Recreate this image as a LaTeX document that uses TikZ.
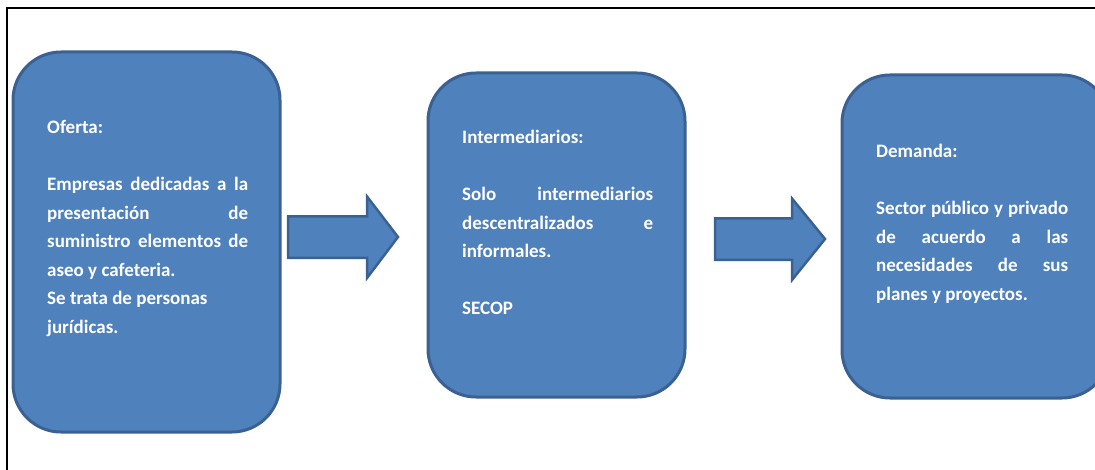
\documentclass[tikz,border=0pt]{standalone}
\usepackage{fontspec}
\setmainfont{Carlito}
\definecolor{boxfill}{HTML}{4F81BD}
\definecolor{boxline}{HTML}{3A6192}
\begin{document}
\begin{tikzpicture}[x=1pt,y=-1pt,
  blockbox/.style={fill=boxfill,draw=boxline,line width=3pt,rounded corners=48pt},
  blockarrow/.style={fill=boxfill,draw=boxline,line width=2.5pt,line join=miter},
  boxtext/.style={anchor=base west,inner sep=0pt,text=white,align=justify,
    font=\bfseries\fontsize{19}{28.5}\selectfont}]
\useasboundingbox (0,0) rectangle (1095,470);
\begin{scope}
\clip (0,0) rectangle (1095,470);
% frame
\draw[line width=1.3pt] (7,470) -- (7,8) -- (1100,8);
% boxes
\draw[blockbox] (13,52) rectangle (280,432);
\draw[blockbox] (428,73) rectangle (685,397);
\draw[blockbox] (842,75) rectangle (1110,398);
% arrows
\coordinate (a1s) at (288,237);
\coordinate (a1t) at (398,237);
\draw[blockarrow] (a1s) ++(0,-20.5) -- ++(79,0) -- ++(0,-20) -- (a1t) -- (367,278) -- ++(0,-20) -- ++(-79,0) -- cycle;
\coordinate (a2s) at (715,239);
\coordinate (a2t) at (825,239);
\draw[blockarrow] (a2s) ++(0,-20.5) -- ++(77,0) -- ++(0,-20) -- (a2t) -- (792,280) -- ++(0,-20) -- ++(-77,0) -- cycle;
\end{scope}
% texts
\node[boxtext,text width=201pt] (t1) at (47,134) {Oferta:\par\vspace{28.5pt}
Empresas dedicadas a la\linebreak presentación de\linebreak suministro elementos de\linebreak aseo y cafeteria.\newline Se trata de personas\newline jurídicas.};
\node[boxtext,text width=191pt] (t2) at (462,144) {Intermediarios:\par\vspace{28.5pt}
Solo intermediarios\linebreak descentralizados e\linebreak informales.\par\vspace{28.5pt}
SECOP};
\node[boxtext,text width=192pt] (t3) at (876,158) {Demanda:\par\vspace{28.5pt}
Sector público y privado\linebreak de acuerdo a las\linebreak necesidades de sus\linebreak planes y proyectos.};
\end{tikzpicture}
\end{document}
